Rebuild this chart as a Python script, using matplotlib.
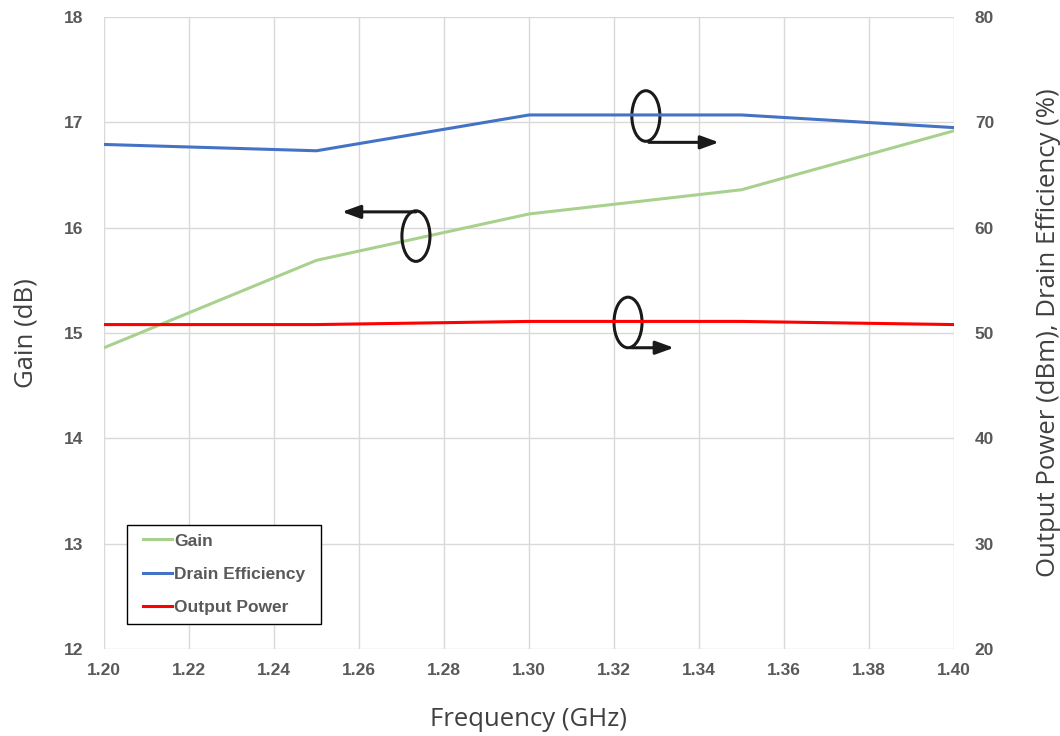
import matplotlib
matplotlib.use("Agg")
import matplotlib.pyplot as plt
from matplotlib.patches import Ellipse, Rectangle

freq = [1.20, 1.25, 1.30, 1.35, 1.40]
gain = [14.86, 15.69, 16.13, 16.36, 16.92]
drain_eff = [67.9, 67.3, 70.7, 70.7, 69.5]
out_power = [50.8, 50.8, 51.1, 51.1, 50.8]

xticks = [1.20, 1.22, 1.24, 1.26, 1.28, 1.30, 1.32, 1.34, 1.36, 1.38, 1.40]

fig = plt.figure(figsize=(10.6, 7.36), dpi=100)
ax = fig.add_axes([0.0981, 0.1182, 0.9 - 0.0981, 0.9769 - 0.1182])
ax2 = ax.twinx()

tick_color = "#595959"
grid_color = "#d9d9d9"
lbl_font = ["Open Sans", "DejaVu Sans"]

ax.set_xlim(1.20, 1.40)
ax.set_ylim(12, 18)
ax2.set_ylim(20, 80)
ax.set_xticks(xticks)
ax.set_xticklabels([f"{t:.2f}" for t in xticks])
ax.set_yticks(range(12, 19))
ax2.set_yticks(range(20, 81, 10))
ax.grid(True, color=grid_color, linewidth=1.0)
ax.set_axisbelow(True)
for a in (ax, ax2):
    for s in a.spines.values():
        s.set_visible(False)
    a.tick_params(length=0, labelsize=12.5, labelcolor=tick_color)
    for lab in a.get_xticklabels() + a.get_yticklabels():
        lab.set_fontweight("bold")
        lab.set_family("Liberation Sans")
ax.tick_params(axis="x", pad=10)
ax.tick_params(axis="y", pad=15)
ax2.tick_params(axis="y", pad=15)

l1, = ax.plot(freq, gain, color="#a9d18e", linewidth=2.2, label="Gain")
l2, = ax2.plot(freq, drain_eff, color="#4472c4", linewidth=2.2, label="Drain Efficiency")
l3, = ax2.plot(freq, out_power, color="#ff0000", linewidth=2.2, label="Output Power")

ax.set_xlabel("Frequency (GHz)", fontsize=18.5, color="#404040", family=lbl_font, labelpad=21)
ax.set_ylabel("Gain (dB)", fontsize=18.5, color="#404040", family=lbl_font, labelpad=18)
ax2.set_ylabel("Output Power (dBm), Drain Efficiency (%)", fontsize=18.5, color="#404040",
               family=lbl_font, labelpad=30)

# legend frame (drawn separately to get wider horizontal padding)
ax2.add_patch(Rectangle((0.027, 0.0396), 0.228, 0.157, transform=ax2.transAxes,
                        facecolor="white", edgecolor="#000000", linewidth=1.0, zorder=9))
leg = ax2.legend(handles=[l1, l2, l3], loc="lower left", bbox_to_anchor=(0.0353, 0.0396),
                 borderaxespad=0, frameon=False, handlelength=1.7, handletextpad=0.1,
                 borderpad=0.5, labelspacing=1.05,
                 prop={"family": "Liberation Sans", "weight": "bold", "size": 12.5})
for t in leg.get_texts():
    t.set_color(tick_color)
leg.set_zorder(10)

# annotations: ellipses and arrows (left-axis data coords)
ew, eh = 0.0066, 0.48
for (cx, cy) in [(1.3275, 17.06), (1.2734, 15.92), (1.3233, 15.10)]:
    ax.add_patch(Ellipse((cx, cy), ew, eh, fill=False, edgecolor="#1a1a1a", linewidth=2.2, zorder=6))
arrows = [((1.3282, 16.81), (1.3447, 16.81)),
          ((1.2734, 16.15), (1.2560, 16.15)),
          ((1.3240, 14.86), (1.3341, 14.86))]
for (start, end) in arrows:
    ax.annotate("", xy=end, xytext=start,
                arrowprops=dict(arrowstyle="-|>,head_length=1.1,head_width=0.4",
                                color="#1a1a1a", linewidth=2.2, shrinkA=0, shrinkB=0),
                zorder=6)

fig.savefig("out.png", dpi=100)
